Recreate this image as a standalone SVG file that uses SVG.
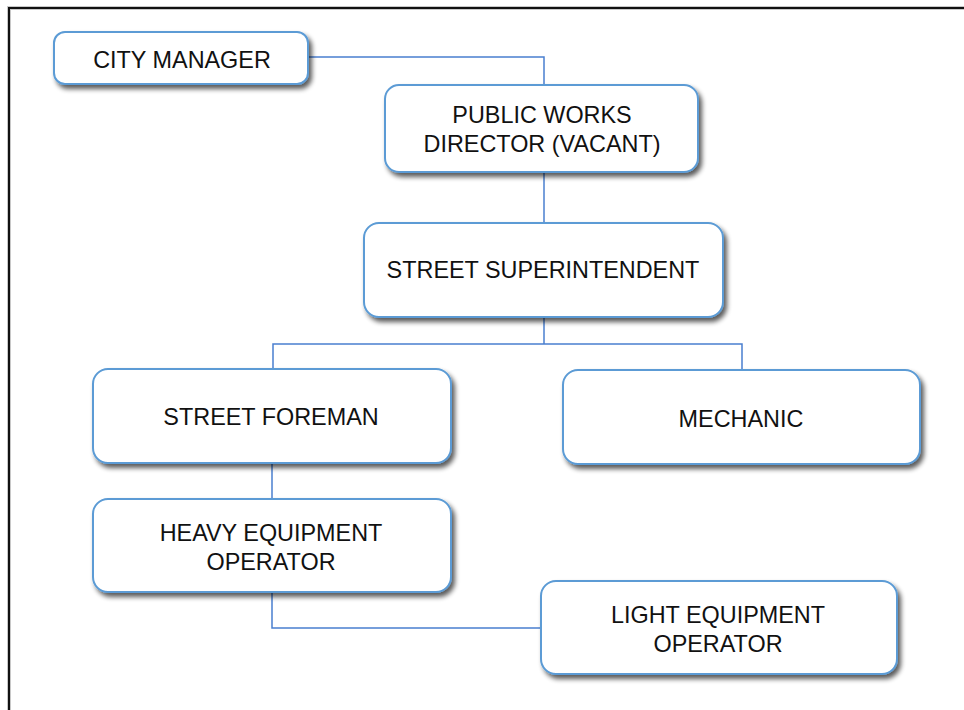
<svg xmlns="http://www.w3.org/2000/svg" width="964" height="710" viewBox="0 0 964 710">
  <style>
    .box { fill: #ffffff; stroke: #5b9bd5; stroke-width: 2; filter: url(#shadow); }
    .label { font-family: "Liberation Sans", Arial, sans-serif; font-size: 23.4px; fill: #111111; text-anchor: middle; }
    .link { fill: none; stroke: #4a7fcf; stroke-width: 1.5; }
  </style>
  <defs>
    <filter id="shadow" x="-10%" y="-20%" width="125%" height="150%">
      <feGaussianBlur in="SourceAlpha" stdDeviation="2.5"/>
      <feOffset dx="3" dy="4" result="b"/>
      <feComponentTransfer><feFuncA type="linear" slope="0.65"/></feComponentTransfer>
      <feMerge><feMergeNode/><feMergeNode in="SourceGraphic"/></feMerge>
    </filter>
  </defs>

  <rect width="964" height="710" fill="#ffffff"/>
  <!-- page frame -->
  <path d="M 9 710 V 8 H 964" fill="none" stroke="#c8c8c8" stroke-width="4"/>
  <path d="M 9 710 V 8 H 964" fill="none" stroke="#111111" stroke-width="2"/>

  <!-- reporting lines -->
  <g id="connectors">
    <path class="link" d="M 308 57 H 544 V 85"/>
    <path class="link" d="M 544 172 V 223"/>
    <path class="link" d="M 544 317 V 344"/>
    <path class="link" d="M 273 369 V 344 H 742 V 370"/>
    <path class="link" d="M 272 463 V 499"/>
    <path class="link" d="M 272 592 V 628 H 541"/>
  </g>

  <g id="city-manager">
    <rect class="box" x="54" y="32" width="254" height="52" rx="11"/>
    <text class="label" x="182" y="68">CITY MANAGER</text>
  </g>

  <g id="public-works-director">
    <rect class="box" x="385" y="85" width="313" height="87" rx="14"/>
    <text class="label" x="542" y="123">PUBLIC WORKS</text>
    <text class="label" x="542" y="152">DIRECTOR (VACANT)</text>
  </g>

  <g id="street-superintendent">
    <rect class="box" x="364" y="223" width="359" height="94" rx="15"/>
    <text class="label" x="543" y="278">STREET SUPERINTENDENT</text>
  </g>

  <g id="street-foreman">
    <rect class="box" x="93" y="369" width="358" height="94" rx="15"/>
    <text class="label" x="271" y="425">STREET FOREMAN</text>
  </g>

  <g id="mechanic">
    <rect class="box" x="563" y="370" width="357" height="94" rx="15"/>
    <text class="label" x="741" y="427">MECHANIC</text>
  </g>

  <g id="heavy-equipment-operator">
    <rect class="box" x="93" y="499" width="358" height="93" rx="15"/>
    <text class="label" x="271" y="541">HEAVY EQUIPMENT</text>
    <text class="label" x="271" y="570">OPERATOR</text>
  </g>

  <g id="light-equipment-operator">
    <rect class="box" x="541" y="581" width="356" height="93" rx="15"/>
    <text class="label" x="718" y="623">LIGHT EQUIPMENT</text>
    <text class="label" x="718" y="652">OPERATOR</text>
  </g>
</svg>
